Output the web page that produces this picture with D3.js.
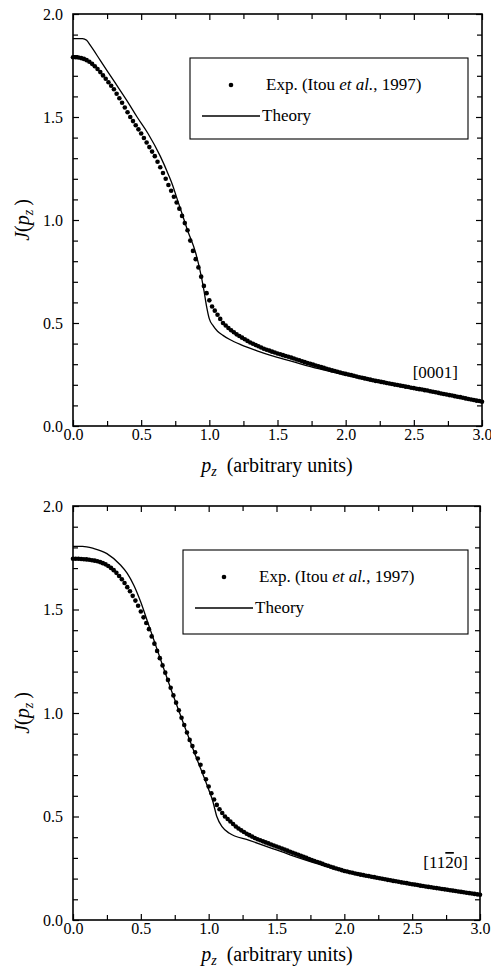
<!DOCTYPE html>
<html><head><meta charset="utf-8">
<script src="https://cdn.jsdelivr.net/npm/d3@7"></script>
<style>
body{margin:0;background:#fff;}
svg{display:block;}
</style></head>
<body><svg id="chart" width="491" height="972"></svg>
<script>
// ---------- DATA ----------
const pzGrid = [0.00,0.02,0.04,0.06,0.08,0.10,0.12,0.14,0.16,0.18,0.20,0.22,0.24,0.26,0.28,0.30,0.32,0.34,0.36,0.38,0.40,0.42,0.44,0.46,0.48,0.50,0.52,0.54,0.56,0.58,0.60,0.62,0.64,0.66,0.68,0.70,0.72,0.74,0.76,0.78,0.80,0.82,0.84,0.86,0.88,0.90,0.92,0.94,0.96,0.98,1.00,1.02,1.04,1.06,1.08,1.10,1.12,1.14,1.16,1.18,1.20,1.22,1.24,1.26,1.28,1.30,1.32,1.34,1.36,1.38,1.40,1.42,1.44,1.46,1.48,1.50,1.52,1.54,1.56,1.58,1.60,1.62,1.64,1.66,1.68,1.70,1.72,1.74,1.76,1.78,1.80,1.82,1.84,1.86,1.88,1.90,1.92,1.94,1.96,1.98,2.00,2.02,2.04,2.06,2.08,2.10,2.12,2.14,2.16,2.18,2.20,2.22,2.24,2.26,2.28,2.30,2.32,2.34,2.36,2.38,2.40,2.42,2.44,2.46,2.48,2.50,2.52,2.54,2.56,2.58,2.60,2.62,2.64,2.66,2.68,2.70,2.72,2.74,2.76,2.78,2.80,2.82,2.84,2.86,2.88,2.90,2.92,2.94,2.96,2.98,3.00];

// [0001] experimental (Itou et al., 1997)
const exp0001 = [1.790,1.790,1.789,1.786,1.782,1.776,1.768,1.758,1.746,1.733,1.718,1.702,1.686,1.669,1.652,1.635,1.613,1.591,1.569,1.546,1.523,1.500,1.480,1.460,1.440,1.420,1.398,1.376,1.354,1.332,1.310,1.283,1.256,1.228,1.200,1.170,1.142,1.113,1.085,1.055,1.020,0.985,0.950,0.900,0.850,0.810,0.770,0.725,0.680,0.645,0.610,0.580,0.560,0.540,0.520,0.500,0.488,0.476,0.465,0.455,0.445,0.437,0.429,0.421,0.413,0.405,0.399,0.393,0.387,0.381,0.375,0.370,0.366,0.361,0.357,0.352,0.348,0.344,0.340,0.336,0.332,0.328,0.323,0.319,0.314,0.310,0.306,0.302,0.298,0.294,0.290,0.286,0.282,0.278,0.274,0.270,0.267,0.263,0.260,0.256,0.253,0.250,0.247,0.244,0.240,0.237,0.234,0.231,0.228,0.225,0.222,0.219,0.217,0.214,0.212,0.209,0.206,0.204,0.201,0.199,0.196,0.194,0.191,0.189,0.186,0.184,0.181,0.179,0.177,0.174,0.172,0.169,0.166,0.164,0.161,0.158,0.155,0.153,0.150,0.148,0.145,0.142,0.140,0.137,0.134,0.131,0.129,0.126,0.123,0.121,0.118];

// [0001] theory
const theory0001P = [0,0.07,0.10,0.13,0.20,0.30,0.40,0.47,0.55,0.64,0.70,0.73,0.76,0.80,0.84,0.90,0.93,0.96,0.98,1.00,1.03,1.06,1.10,1.15,1.23,1.35,1.45,1.60,1.80,2.00,2.20,2.40,2.60,2.80,3.00];
const theory0001J = [1.88,1.88,1.872,1.845,1.775,1.675,1.575,1.50,1.42,1.31,1.22,1.17,1.11,1.03,0.95,0.84,0.76,0.66,0.58,0.52,0.485,0.46,0.44,0.42,0.395,0.365,0.343,0.315,0.278,0.247,0.219,0.193,0.170,0.144,0.117];

// [11-20] experimental (Itou et al., 1997)
const exp1120 = [1.745,1.745,1.745,1.744,1.743,1.742,1.740,1.738,1.736,1.733,1.729,1.724,1.718,1.710,1.701,1.690,1.677,1.662,1.646,1.628,1.608,1.588,1.566,1.543,1.518,1.490,1.462,1.435,1.405,1.370,1.335,1.300,1.265,1.230,1.195,1.160,1.122,1.085,1.050,1.013,0.977,0.942,0.906,0.870,0.840,0.810,0.780,0.750,0.715,0.680,0.645,0.612,0.582,0.556,0.535,0.517,0.500,0.488,0.476,0.464,0.452,0.442,0.433,0.425,0.417,0.410,0.403,0.396,0.390,0.385,0.380,0.375,0.370,0.365,0.360,0.355,0.350,0.345,0.340,0.335,0.330,0.325,0.320,0.315,0.310,0.305,0.300,0.295,0.290,0.285,0.280,0.276,0.271,0.266,0.262,0.257,0.253,0.249,0.245,0.241,0.237,0.234,0.231,0.228,0.225,0.222,0.219,0.217,0.214,0.212,0.209,0.207,0.204,0.202,0.199,0.197,0.194,0.192,0.189,0.187,0.185,0.182,0.180,0.178,0.175,0.173,0.171,0.169,0.166,0.164,0.162,0.160,0.158,0.156,0.154,0.152,0.150,0.148,0.146,0.144,0.142,0.140,0.138,0.136,0.134,0.132,0.130,0.128,0.126,0.124,0.122];

// [11-20] theory
const theory1120P = [0,0.07,0.15,0.25,0.35,0.40,0.45,0.50,0.55,0.60,0.65,0.73,0.80,0.90,1.00,1.03,1.06,1.10,1.15,1.30,1.45,1.60,1.80,2.00,2.20,2.40,2.60,2.80,3.00];
const theory1120J = [1.805,1.805,1.795,1.77,1.715,1.675,1.615,1.535,1.44,1.345,1.25,1.10,0.975,0.80,0.63,0.575,0.50,0.45,0.42,0.385,0.35,0.315,0.272,0.235,0.207,0.183,0.161,0.141,0.120];

const xMajorTicks = [0,0.5,1.0,1.5,2.0,2.5,3.0];
const xTickLabels = ["0.0","0.5","1.0","1.5","2.0","2.5","3.0"];
const xMinorTicks = [0.25,0.75,1.25,1.75,2.25,2.75];
const yMajorTicks = [0,0.5,1.0,1.5,2.0];
const yTickLabels = ["0.0","0.5","1.0","1.5","2.0"];
const yMinorTicks = [0.1,0.2,0.3,0.4,0.6,0.7,0.8,0.9,1.1,1.2,1.3,1.4,1.6,1.7,1.8,1.9];

const legendExp = "Exp. (Itou ";
const legendTheory = "Theory";

// ---------- DRAW ----------
const svg = d3.select("#chart");
const FONT = '"Liberation Serif"';

const panels = [
  {top:14, bottom:426, left:73, right:482, exp:exp0001, thP:theory0001P, thJ:theory0001J,
   legend:{x:190,y:58,w:278,h:81}, tag:"0001", tagX:458, tagY:378, titleY:472},
  {top:506, bottom:920, left:73, right:480, exp:exp1120, thP:theory1120P, thJ:theory1120J,
   legend:{x:183,y:550,w:285,h:84}, tag:"1120", tagX:468, tagY:868, titleY:961}
];

panels.forEach(pn => {
  const x = d3.scaleLinear().domain([0,3]).range([pn.left, pn.right]);
  const y = d3.scaleLinear().domain([0,2]).range([pn.bottom, pn.top]);
  const g = svg.append("g");

  const mk = (axisFn, scale, vals, size, labels) => {
    const a = axisFn(scale).tickValues(vals).tickSizeInner(-size).tickSizeOuter(0);
    if (labels) a.tickFormat((d,i)=>labels[i]); else a.tickFormat("");
    return a;
  };
  const xb = g.append("g").attr("transform",`translate(0,${pn.bottom})`)
    .call(mk(d3.axisBottom, x, xMajorTicks, 6, xTickLabels).tickPadding(14));
  g.append("g").attr("transform",`translate(0,${pn.bottom})`).call(mk(d3.axisBottom, x, xMinorTicks, 5));
  g.append("g").attr("transform",`translate(0,${pn.top})`).call(mk(d3.axisTop, x, xMajorTicks, 6));
  g.append("g").attr("transform",`translate(0,${pn.top})`).call(mk(d3.axisTop, x, xMinorTicks, 5));
  g.append("g").attr("transform",`translate(${pn.left},0)`)
    .call(mk(d3.axisLeft, y, yMajorTicks, 6, yTickLabels).tickPadding(10));
  g.append("g").attr("transform",`translate(${pn.left},0)`).call(mk(d3.axisLeft, y, yMinorTicks, 5));
  g.append("g").attr("transform",`translate(${pn.right},0)`).call(mk(d3.axisRight, y, yMajorTicks, 6));
  g.append("g").attr("transform",`translate(${pn.right},0)`).call(mk(d3.axisRight, y, yMinorTicks, 5));

  g.selectAll(".domain").remove();
  g.selectAll("g").attr("font-family",FONT);
  g.selectAll(".tick line").attr("stroke","#000").attr("stroke-width",1.2);
  g.selectAll(".tick text").attr("font-family",FONT).attr("font-size",16).attr("fill","#000");
  xb.selectAll(".tick text").attr("dy","0");

  g.append("rect").attr("x",pn.left).attr("y",pn.top)
    .attr("width",pn.right-pn.left).attr("height",pn.bottom-pn.top)
    .attr("fill","none").attr("stroke","#000").attr("stroke-width",1.6);

  const thData = pn.thP.map((p,i)=>[p, pn.thJ[i]]);
  g.append("path").datum(thData)
    .attr("d", d3.line().x(d=>x(d[0])).y(d=>y(d[1])).curve(d3.curveMonotoneX))
    .attr("fill","none").attr("stroke","#000").attr("stroke-width",1.3);

  g.selectAll("circle.exp").data(pn.exp).join("circle").attr("class","exp")
    .attr("cx",(d,i)=>x(pzGrid[i])).attr("cy",d=>y(d)).attr("r",2.3).attr("fill","#000");

  const L = pn.legend;
  g.append("rect").attr("x",L.x).attr("y",L.y).attr("width",L.w).attr("height",L.h)
    .attr("fill","#fff").attr("stroke","#000").attr("stroke-width",1.1);
  g.append("circle").attr("cx",L.x+41).attr("cy",L.y+27).attr("r",2.3).attr("fill","#000");
  const t1 = g.append("text").attr("x",L.x+76).attr("y",L.y+32).attr("font-size",17)
    .attr("font-family",FONT).attr("fill","#000");
  t1.append("tspan").text(legendExp);
  t1.append("tspan").attr("font-style","italic").text("et al.");
  t1.append("tspan").text(", 1997)");
  g.append("line").attr("x1",L.x+12).attr("x2",L.x+70).attr("y1",L.y+58).attr("y2",L.y+58)
    .attr("stroke","#000").attr("stroke-width",1.3);
  g.append("text").attr("x",L.x+72).attr("y",L.y+63).attr("font-size",17)
    .attr("font-family",FONT).attr("fill","#000").text(legendTheory);

  const tg = g.append("text").attr("x",pn.tagX).attr("y",pn.tagY).attr("text-anchor","end")
    .attr("font-size",17).attr("font-family",FONT).attr("fill","#000");
  if (pn.tag === "0001") {
    tg.text("[0001]");
  } else {
    tg.append("tspan").text("[11");
    tg.append("tspan").style("text-decoration","overline").text("2");
    tg.append("tspan").text("0]");
  }

  const xt = g.append("text").attr("x",277).attr("y",pn.titleY)
    .attr("text-anchor","middle").attr("font-size",20).attr("font-family",FONT).attr("fill","#000");
  xt.append("tspan").attr("font-style","italic").text("p");
  xt.append("tspan").attr("font-style","italic").attr("font-size",14).attr("dy",4).text("z");
  xt.append("tspan").attr("dy",-4).text("\u2002(arbitrary units)");

  const cy = (pn.top+pn.bottom)/2;
  const yt = g.append("text").attr("transform",`translate(29,${cy}) rotate(-90)`)
    .attr("text-anchor","middle").attr("font-size",20).attr("font-family",FONT).attr("fill","#000");
  yt.append("tspan").attr("font-style","italic").text("J");
  yt.append("tspan").text("(");
  yt.append("tspan").attr("font-style","italic").text("p");
  yt.append("tspan").attr("font-style","italic").attr("font-size",14).attr("dy",4).text("z");
  yt.append("tspan").attr("dy",-4).text("\u2009)");
});
</script>
</body></html>
